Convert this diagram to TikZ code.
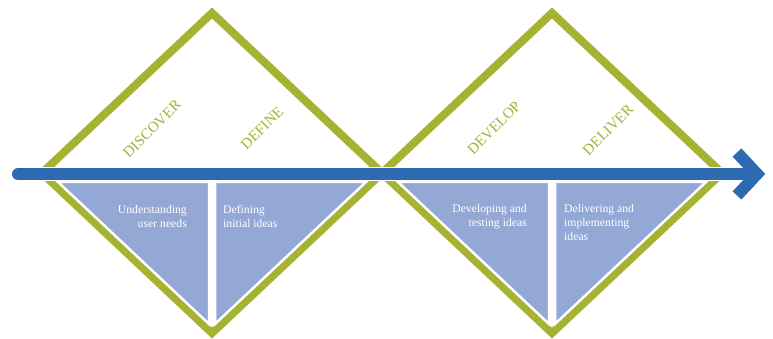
\documentclass[tikz,border=0pt]{standalone}
\usepackage{fontspec}
\setmainfont{Liberation Serif}
\usepackage{xcolor}
\usetikzlibrary{arrows.meta,positioning}
\definecolor{ddgreen}{RGB}{166,178,50}
\definecolor{ddblue}{RGB}{45,106,178}
\definecolor{ddlight}{RGB}{148,168,214}

\begin{document}
\begin{tikzpicture}[
  x=1pt,y=-1pt,
  rhomb/.style={draw=ddgreen,line width=8pt,line join=miter},
  wedge/.style={fill=ddlight,draw=white,line width=2.5pt,line join=miter},
  flow/.style={draw=ddblue,line width=12pt},
  phase/.style={text=ddgreen,font=\fontsize{15}{18}\selectfont,rotate=45,inner sep=0pt},
  note/.style={text=white,font=\fontsize{11.7}{14}\selectfont,inner sep=0pt}
]
  \fill[white] (0,0) rectangle (773,339);
  \useasboundingbox (0,0) rectangle (773,339);

  % Discover / define diamond
  \coordinate (t1) at (212,13);
  \coordinate (r1) at (382,173);
  \coordinate (b1) at (212,333);
  \coordinate (l1) at (42,173);
  \draw[rhomb] (t1) -- (r1) -- (b1) -- (l1) -- cycle;
  \filldraw[wedge] (58,182) -- (209,182) -- (209,324) -- cycle;
  \filldraw[wedge] (215,182) -- (366,182) -- (215,324) -- cycle;

  % Develop / deliver diamond
  \coordinate (t2) at (552,13);
  \coordinate (r2) at (722,173);
  \coordinate (b2) at (552,333);
  \coordinate (l2) at (382,173);
  \draw[rhomb] (t2) -- (r2) -- (b2) -- (l2) -- cycle;
  \filldraw[wedge] (398,182) -- (549,182) -- (549,324) -- cycle;
  \filldraw[wedge] (555,182) -- (706,182) -- (555,324) -- cycle;

  % The process arrow
  \coordinate (tail) at (18,174);
  \coordinate (head) at (757,174);
  \coordinate (barb1) at (737,152.5);
  \coordinate (barb2) at (737,195.5);
  \draw[white,line width=14pt,line cap=round] (tail) -- (head);
  \draw[flow,line cap=round] (tail) -- (head);
  \draw[flow,line join=miter] (barb1) -- (head) -- (barb2);

  \node[phase] (discover) at (152,129) {DISCOVER};
  \node[phase] (define) at (262,128) {DEFINE};
  \node[phase] (develop) at (494,128) {DEVELOP};
  \node[phase] (deliver) at (608,130) {DELIVER};

  \node[note,align=right,anchor=north east] (needs) at (187,205)
    {Understanding\\user needs};
  \node[note,align=left,anchor=north west] (initial) at (223,205)
    {Defining\\initial ideas};
  \node[note,align=right,anchor=north east] (testing) at (527,204)
    {Developing and\\testing ideas};
  \node[note,align=left,anchor=north west] (implement) at (564,204)
    {Delivering and\\implementing\\ideas};
\end{tikzpicture}
\end{document}
